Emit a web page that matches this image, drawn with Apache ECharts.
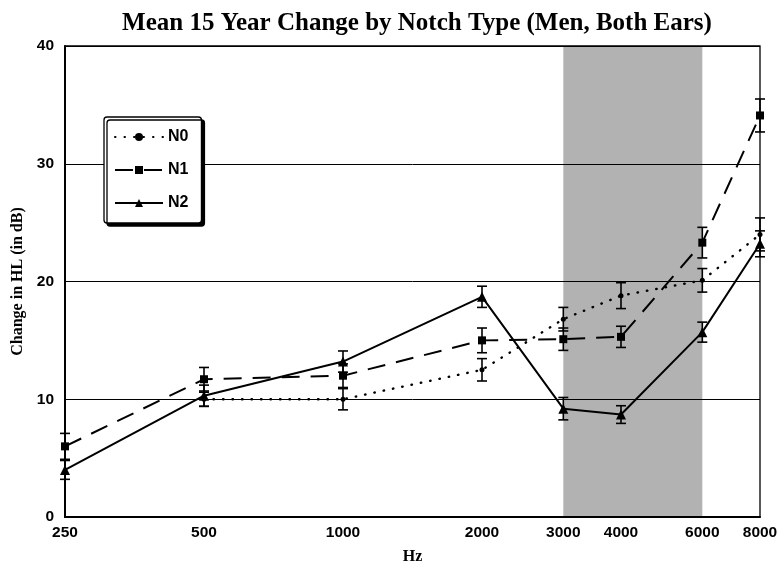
<!DOCTYPE html>
<html>
<head>
<meta charset="utf-8">
<script src="https://cdn.jsdelivr.net/npm/echarts@6/dist/echarts.min.js"></script>
<style>
  html, body { margin: 0; padding: 0; background: #fff; }
  #chart { width: 778px; height: 563px; }
</style>
</head>
<body>
<div id="chart"></div>
<script>
// Frequencies (Hz) and tick labels
const freqs = [250, 500, 1000, 2000, 3000, 4000, 6000, 8000];
const tickLabels = ['250', '500', '1000', '2000', '3000', '4000', '6000', '8000'];
const yTicks = [0, 10, 20, 30, 40];

// Mean 15-year change in hearing level (dB) per notch type
const n0Mean = [null, 10.0, 10.0, 12.5, 16.8, 18.8, 20.1, 24.0];
const n1Mean = [6.0, 11.7, 12.0, 15.0, 15.1, 15.3, 23.3, 34.1];
const n2Mean = [4.0, 10.3, 13.2, 18.7, 9.2, 8.7, 15.7, 23.2];

// Half-width of each error bar (dB)
const n0Err = [null, 0.6, 0.9, 0.95, 1.0, 1.1, 1.0, 1.4];
const n1Err = [1.1, 1.0, 1.0, 1.05, 0.95, 0.9, 1.3, 1.4];
const n2Err = [0.8, 0.9, 0.9, 0.9, 0.95, 0.75, 0.85, 1.1];

// Highlighted frequency band
const bandFrom = 3000;
const bandTo = 6000;

function lineData(mean) {
  return freqs.map((f, i) => mean[i] == null ? null : [f, mean[i]]).filter(d => d);
}
function errData(mean, err) {
  return freqs.map((f, i) => mean[i] == null ? null : [f, mean[i] - err[i], mean[i] + err[i]]).filter(d => d);
}

function errorRender(params, api) {
  const x = api.value(0);
  const lo = api.coord([x, api.value(1)]);
  const hi = api.coord([x, api.value(2)]);
  const half = 5;
  const style = { stroke: '#000', lineWidth: 1.6 };
  return {
    type: 'group',
    children: [
      { type: 'line', shape: { x1: lo[0], y1: lo[1], x2: hi[0], y2: hi[1] }, style },
      { type: 'line', shape: { x1: lo[0] - half, y1: lo[1], x2: lo[0] + half, y2: lo[1] }, style },
      { type: 'line', shape: { x1: hi[0] - half, y1: hi[1], x2: hi[0] + half, y2: hi[1] }, style }
    ]
  };
}

function errSeries(name, mean, err) {
  return {
    name: name + ' error',
    type: 'custom',
    renderItem: errorRender,
    data: errData(mean, err),
    encode: { x: 0, y: [1, 2] },
    z: 3,
    silent: true
  };
}

const chart = echarts.init(document.getElementById('chart'), null, { renderer: 'canvas' });

const sansBold = { fontFamily: 'Liberation Sans, Arial, sans-serif', fontWeight: 'bold', color: '#000' };
const serifBold = { fontFamily: 'Liberation Serif, Times New Roman, serif', fontWeight: 'bold', color: '#000' };

chart.setOption({
  animation: false,
  backgroundColor: '#fff',
  title: {
    text: 'Mean 15 Year Change by Notch Type (Men, Both Ears)',
    left: 412,
    textAlign: 'center',
    top: 6,
    textStyle: Object.assign({ fontSize: 25 }, serifBold)
  },
  grid: {
    left: 65, right: 18, top: 46, bottom: 46,
    containLabel: false,
    outerBoundsMode: 'none',
    show: true,
    borderColor: '#000',
    borderWidth: 1.3,
    backgroundColor: 'transparent'
  },
  legend: {
    orient: 'vertical',
    left: 104,
    top: 117,
    padding: [12, 13, 12, 10],
    itemGap: 17,
    itemWidth: 48,
    itemHeight: 10,
    backgroundColor: '#fff',
    borderColor: '#000',
    borderWidth: 1.3,
    borderRadius: 3,
    shadowColor: '#000',
    shadowBlur: 0,
    shadowOffsetX: 3,
    shadowOffsetY: 3,
    data: ['N0', 'N1', 'N2'],
    textStyle: Object.assign({ fontSize: 16 }, sansBold),
    selectedMode: false
  },
  xAxis: {
    type: 'log',
    logBase: 2,
    min: 250,
    max: 8000,
    name: 'Hz',
    nameLocation: 'middle',
    nameGap: 32,
    nameTextStyle: Object.assign({ fontSize: 16 }, serifBold),
    axisLine: { lineStyle: { color: '#000', width: 2 } },
    axisTick: { show: false },
    splitLine: { show: false },
    axisLabel: {
      customValues: freqs,
      formatter: v => {
        const i = freqs.findIndex(f => Math.abs(f - v) < 1);
        return i >= 0 ? tickLabels[i] : '';
      },
      margin: 8,
      fontSize: 15.5,
      ...sansBold
    }
  },
  yAxis: {
    type: 'value',
    min: 0,
    max: 40,
    interval: 10,
    name: 'Change in HL (in dB)',
    nameLocation: 'middle',
    nameGap: 38,
    nameTextStyle: Object.assign({ fontSize: 16 }, serifBold),
    axisLine: { show: true, lineStyle: { color: '#000', width: 2 } },
    axisTick: { show: false },
    splitLine: { show: true, lineStyle: { color: '#000', width: 1 } },
    axisLabel: {
      customValues: yTicks,
      margin: 11,
      fontSize: 15.5,
      ...sansBold
    }
  },
  series: [
    {
      name: 'N0',
      type: 'line',
      data: lineData(n0Mean),
      symbol: 'circle',
      symbolSize: 5,
      itemStyle: { color: '#000' },
      lineStyle: { color: '#000', width: 2.4, type: [0.5, 9], cap: 'round' },
      z: 4,
      markArea: {
        silent: true,
        itemStyle: { color: 'rgba(0,0,0,0.3)' },
        data: [[{ xAxis: bandFrom }, { xAxis: bandTo }]]
      }
    },
    {
      name: 'N1',
      type: 'line',
      data: lineData(n1Mean),
      symbol: 'rect',
      symbolSize: 8,
      itemStyle: { color: '#000' },
      lineStyle: { color: '#000', width: 2, type: [18, 11] },
      z: 4
    },
    {
      name: 'N2',
      type: 'line',
      data: lineData(n2Mean),
      symbol: 'triangle',
      symbolSize: 10,
      itemStyle: { color: '#000' },
      lineStyle: { color: '#000', width: 2 },
      z: 4
    },
    errSeries('N0', n0Mean, n0Err),
    errSeries('N1', n1Mean, n1Err),
    errSeries('N2', n2Mean, n2Err)
  ]
});
</script>
</body>
</html>
